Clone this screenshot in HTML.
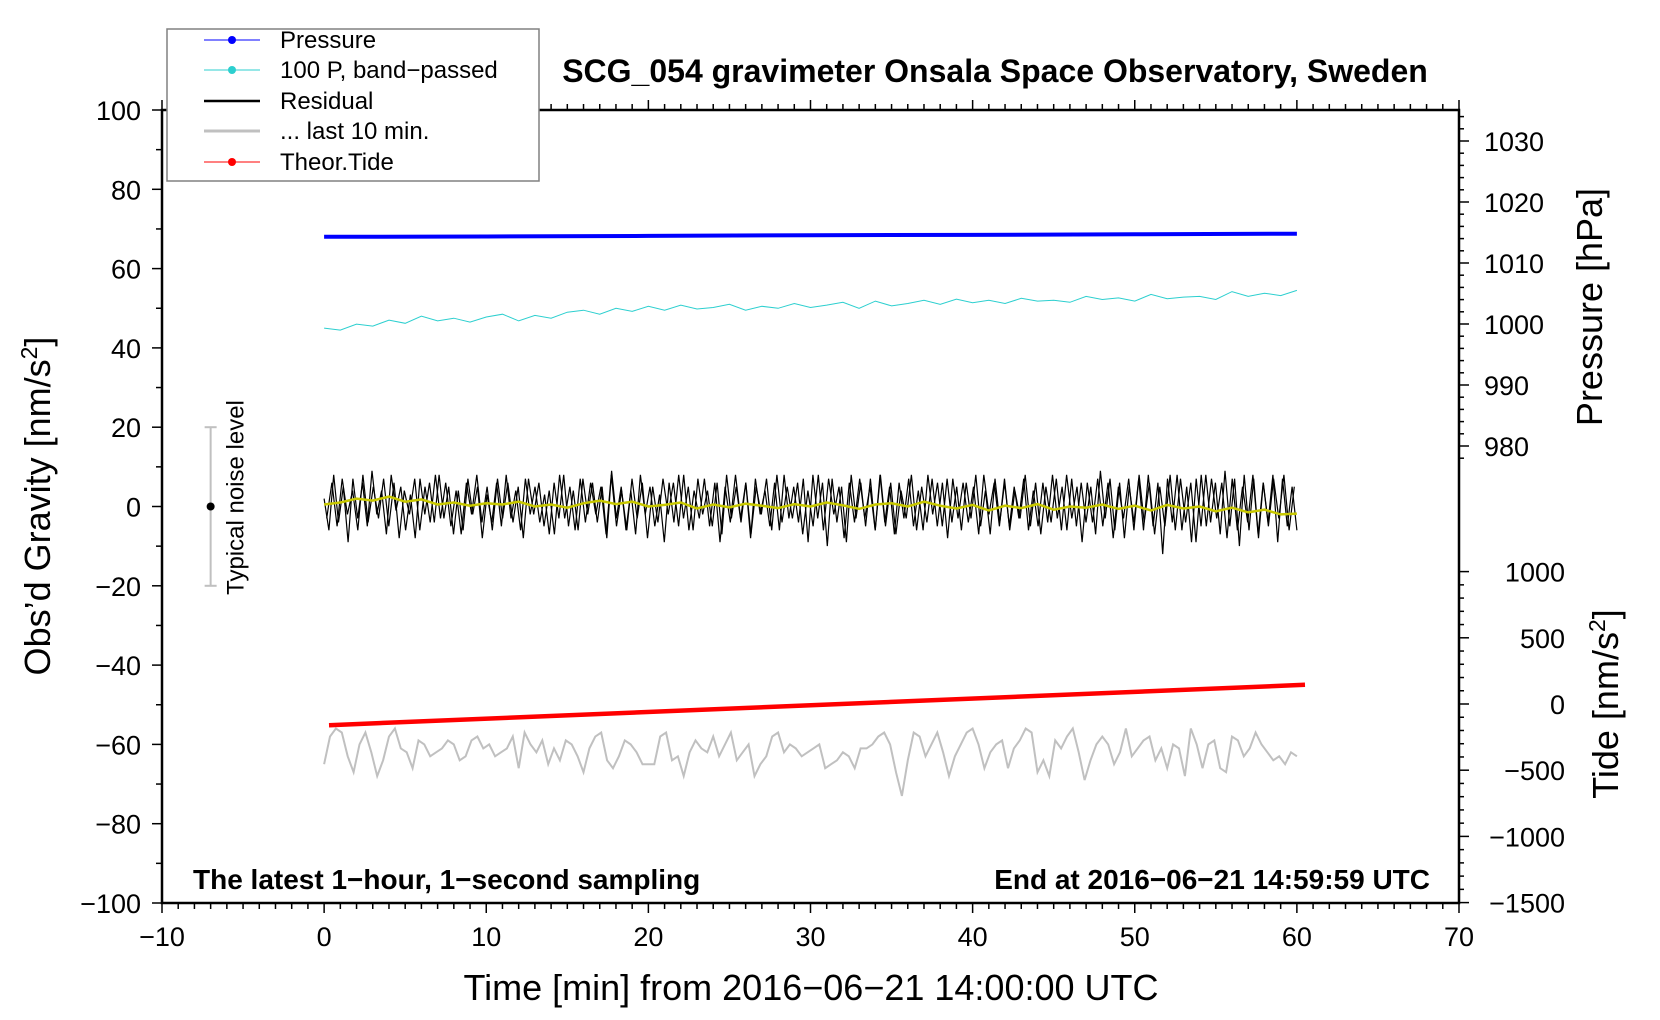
<!DOCTYPE html>
<html><head><meta charset="utf-8"><style>
html,body{margin:0;padding:0;background:#fff;}
svg{display:block;font-family:"Liberation Sans",Arial,sans-serif;}
</style></head><body>
<svg id="chart" width="1660" height="1020" viewBox="0 0 1660 1020"></svg>
<script>
// ---- data ----
const xTicks=[-10,0,10,20,30,40,50,60,70];
const yTicks=[-100,-80,-60,-40,-20,0,20,40,60,80,100];
const pTicks=[980,990,1000,1010,1020,1030];
const tideTicks=[-1500,-1000,-500,0,500,1000];
const pressureT=[0,10,20,30,40,50,60];
const pressureV=[1014.3,1014.35,1014.45,1014.55,1014.6,1014.7,1014.8];
const bandT=[0,1,2,3,4,5,6,7,8,9,10,11,12,13,14,15,16,17,18,19,20,21,22,23,24,25,26,27,28,29,30,31,32,33,34,35,36,37,38,39,40,41,42,43,44,45,46,47,48,49,50,51,52,53,54,55,56,57,58,59,60];
const bandV=[45,44.5,46,45.5,47,46.2,48,46.8,47.5,46.5,47.8,48.5,46.8,48.2,47.5,49,49.5,48.5,50,49.2,50.5,49.5,50.8,49.8,50.2,51,49.5,50.5,50,51.2,50.2,50.8,51.5,50,51.8,50.6,51.2,52,51,52.3,51.4,52,51.2,52.5,51.8,52,51.5,53,52.2,52.6,51.8,53.5,52.4,52.8,53,52.2,54.2,53,53.8,53.2,54.5];
const resV=[2,-6,8,-4,5,-9,7,-3,6,-5,9,-2,4,-7,8,-1,5,-6,3,-8,7,-2,6,-4,8,-3,5,-7,4,-6,7,-2,5,-8,3,-4,6,-5,8,-3,4,-6,7,-2,5,-4,3,-7,6,-3,8,-5,4,-6,7,-2,6,-4,5,-8,9,-3,5,-6,4,-7,8,-2,5,-5,3,-9,6,-4,8,-3,5,-6,7,-2,4,-5,6,-7,8,-3,5,-4,6,-8,7,-2,4,-5,6,-6,8,-3,5,-4,7,-9,8,-3,6,-10,7,-4,5,-9,8,-3,6,-5,7,-6,8,-4,5,-7,6,-3,7,-5,4,-6,8,-2,6,-5,7,-4,5,-6,6,-3,8,-5,4,-7,7,-4,6,-5,5,-3,7,-6,4,-5,6,-4,8,-3,5,-6,7,-5,6,-4,5,-7,9,-3,7,-6,6,-8,5,-4,7,-6,8,-5,6,-12,7,-4,8,-6,5,-9,7,-5,8,-4,6,-7,9,-5,7,-10,8,-6,7,-8,6,-4,8,-9,7,-5,5,-6];
const resV2=[-3,6,-5,7,-2,4,-6,8,-4,5,-3,7,-5,6,-8,4,-2,7,-6,5,-4,8,-3,6,-5,4,-7,6,-2,8,-4,5,-6,7,-3,6,-4,5,-8,7,-2,6,-5,4,-7,8,-3,5,-6,7,-4,6,-2,5,-7,8,-5,4,-6,7,-3,6,-8,5,-4,7,-2,6,-5,8,-6,4,-3,7,-5,6,-9,5,-4,8,-3,6,-7,5,-2,7,-6,8,-4,5,-3,6,-7,4,-5,8,-6,7,-2,5,-8,6,-4,7,-3,5,-6,8,-5,6,-7,4,-3,8,-6,5,-4,7,-5,6,-8,7,-3,6,-4,5,-7,8,-2,6,-5,7,-6,4,-3,8,-5,6,-7,5,-4,7,-6,8,-3,5,-9,6,-4,7,-5,6,-8,5,-3,7,-6,8,-4,6,-7,5,-5,8,-6,7,-4,6,-9,8,-5,7,-3,6,-8,7,-6,5,-4,8,-7,6,-5,7,-3,8,-6,5];
const smoothV=[0.5,1,2,1.5,2.5,1.2,1.8,0.5,1,0.2,0.8,0.5,1.2,0,0.5,-0.3,0.8,1.5,0.6,1.2,0,0.4,1,-0.5,0.5,-0.2,0.7,0.2,-0.4,0.6,0,1,0.3,-0.6,0.5,0.8,0,1.2,0.2,-0.5,0.4,-1,0.2,-0.4,0.6,-0.8,0,-0.3,0.5,-0.6,0.2,-1,0.4,-0.5,0,-1.2,-0.3,-1.5,-0.8,-2,-1.8];
const grayV=[-65,-58,-56,-57,-63,-67,-60,-57,-62,-68,-64,-58,-56,-61,-62,-66,-59,-60,-63,-62,-61,-59,-60,-64,-63,-59,-58,-61,-60,-63,-62,-61,-58,-66,-57,-60,-62,-59,-65,-61,-64,-59,-60,-63,-67,-61,-58,-57,-64,-66,-63,-59,-60,-62,-65,-65,-65,-58,-57,-64,-63,-68,-62,-59,-61,-62,-58,-63,-60,-57,-64,-62,-60,-68,-65,-63,-58,-57,-62,-60,-61,-63,-62,-61,-60,-66,-65,-64,-62,-63,-66,-61,-61,-60,-58,-57,-60,-67,-73,-64,-57,-58,-63,-60,-57,-62,-68,-63,-60,-57,-56,-60,-66,-62,-60,-59,-66,-61,-59,-56,-57,-67,-64,-68,-59,-61,-58,-56,-62,-69,-64,-60,-58,-60,-65,-62,-56,-63,-61,-59,-58,-64,-61,-66,-60,-61,-68,-56,-60,-66,-60,-59,-66,-67,-58,-59,-63,-61,-57,-60,-62,-64,-63,-65,-62,-63];
const tideT=[0.3,60.5];
const tideV=[-160,145];
const noiseMid=0, noiseHalf=20, noiseX=-7;

// ---- scales ----
const X0=162,X1=1459,Y0=903,Y1=110;
const sx=t=>X0+(t+10)/80*(X1-X0);
const sy=v=>Y0-(v+100)/200*(Y0-Y1);
const sp=p=>141+(1030-p)*6.1;
const st=v=>704-v*0.1324;

const svg=document.getElementById('chart');
const NS='http://www.w3.org/2000/svg';
function mk(tag,attrs,parent){const e=document.createElementNS(NS,tag);for(const k in attrs)e.setAttribute(k,attrs[k]);(parent||svg).appendChild(e);return e;}
function txt(s,attrs,parent){const e=mk('text',attrs,parent);e.textContent=s;return e;}

const frame=mk('rect',{x:X0,y:Y1,width:X1-X0,height:Y0-Y1,fill:'none',stroke:'#000','stroke-width':2.5});



const xa=mk('g',{});


for(let t=-10;t<=70;t+=1){const L=(t%10===0)?10:6;
 mk('line',{x1:sx(t),x2:sx(t),y1:Y0,y2:Y0+L,stroke:'#000','stroke-width':1.5},xa);
 mk('line',{x1:sx(t),x2:sx(t),y1:Y1,y2:Y1-L,stroke:'#000','stroke-width':1.5},xa);}
xTicks.forEach(t=>{const e=txt(String(t).replace('-','\u2212'),{x:sx(t),y:Y0+43,'font-size':27,'text-anchor':'middle'},xa);
 
 });
const ya=mk('g',{});


for(let v=-100;v<=100;v+=10){const L=(v%20===0)?10:6;mk('line',{x1:X0,x2:X0-L,y1:sy(v),y2:sy(v),stroke:'#000','stroke-width':1.5},ya);}
yTicks.forEach(v=>{const e=txt(String(v).replace('-','\u2212'),{x:X0-21,y:sy(v)+10,'font-size':27,'text-anchor':'end'},ya);
 
 });
const pa=mk('g',{});


for(let p=978;p<=1036;p+=2){const y=sp(p);if(y<Y1)continue;const L=(p%10===0)?10:5;mk('line',{x1:X1,x2:X1+L,y1:y,y2:y,stroke:'#000','stroke-width':1.5},pa);}
pTicks.forEach(p=>{const e=txt(String(p),{x:X1+25,y:sp(p)+10,'font-size':27},pa);
 
 });
const ta=mk('g',{});


for(let v=-1500;v<=1000;v+=100){const L=(v%500===0)?10:5;mk('line',{x1:X1,x2:X1+L,y1:st(v),y2:st(v),stroke:'#000','stroke-width':1.5},ta);}
tideTicks.forEach(v=>{const e=txt(String(v).replace('-','\u2212'),{x:X1+106,y:st(v)+10,'font-size':27,'text-anchor':'end'},ta);
 
 });

function path(pts,attrs,name){const d=pts.map((p,i)=>(i?'L':'M')+p[0].toFixed(1)+' '+p[1].toFixed(1)).join('');const e=mk('path',Object.assign({d:d,fill:'none'},attrs));return e;}
path(grayV.map((v,i)=>[sx(i/(grayV.length-1)*60),sy(v)]),{stroke:'#c0c0c0','stroke-width':2},'last-10-min-line');
path(bandV.map((v,i)=>[sx(bandT[i]),sy(v)]),{stroke:'#2ccfcf','stroke-width':1},'band-passed-line');
path(pressureV.map((v,i)=>[sx(pressureT[i]),sp(v)]),{stroke:'#0000ff','stroke-width':4},'pressure-line');
path(resV.map((v,i)=>[sx(i/(resV.length-1)*60),sy(v)]),{stroke:'#000','stroke-width':1.2},'residual-line');
path(resV2.map((v,i)=>[sx((i+0.5)/(resV2.length)*60),sy(v)]),{stroke:'#000','stroke-width':1.2},'residual-line-b');
path(smoothV.map((v,i)=>[sx(i/(smoothV.length-1)*60),sy(v)]),{stroke:'#c8c800','stroke-width':2.5},'residual-smoothed-line');
path(tideV.map((v,i)=>[sx(tideT[i]),st(v)]),{stroke:'#ff0000','stroke-width':4.5},'tide-line');

const nb=mk('g',{});


const nx=sx(noiseX);
mk('line',{x1:nx,x2:nx,y1:sy(noiseMid+noiseHalf),y2:sy(noiseMid-noiseHalf),stroke:'#c0c0c0','stroke-width':2},nb);
mk('line',{x1:nx-6,x2:nx+6,y1:sy(noiseMid+noiseHalf),y2:sy(noiseMid+noiseHalf),stroke:'#c0c0c0','stroke-width':2},nb);
mk('line',{x1:nx-6,x2:nx+6,y1:sy(noiseMid-noiseHalf),y2:sy(noiseMid-noiseHalf),stroke:'#c0c0c0','stroke-width':2},nb);
mk('circle',{cx:nx,cy:sy(noiseMid),r:4,fill:'#000'},nb);
txt('Typical noise level',{x:0,y:0,'font-size':24,'text-anchor':'middle',transform:`translate(${nx+33},${sy(noiseMid)-9}) rotate(-90)`},nb);
</script>
<div style="position:absolute;left:0;top:0;width:1660px;height:1020px;pointer-events:none">
<svg width="1660" height="1020" style="font-family:'Liberation Sans',Arial,sans-serif">
 <text x="995" y="82" font-size="32" font-weight="bold" text-anchor="middle">SCG_054 gravimeter Onsala Space Observatory, Sweden</text>
 <text x="193" y="889" font-size="28" font-weight="bold">The latest 1−hour, 1−second sampling</text>
 <text x="1430" y="889" font-size="28" font-weight="bold" text-anchor="end">End at 2016−06−21 14:59:59 UTC</text>
 <text x="811" y="1000" font-size="36" text-anchor="middle">Time [min] from 2016−06−21 14:00:00 UTC</text>
 <text transform="translate(50,506) rotate(-90)" font-size="36" text-anchor="middle">Obs’d Gravity [nm/s<tspan baseline-shift="super" font-size="23">2</tspan>]</text>
 <text transform="translate(1602,307) rotate(-90)" font-size="36" text-anchor="middle">Pressure [hPa]</text>
 <text transform="translate(1618,704) rotate(-90)" font-size="36" text-anchor="middle">Tide [nm/s<tspan baseline-shift="super" font-size="23">2</tspan>]</text>
 <g>
  <rect x="167" y="29" width="372" height="152" fill="#fff" stroke="#808080" stroke-width="1.5"/>
  <line x1="204" x2="260" y1="40" y2="40" stroke="#0000ff"/><circle cx="232" cy="40" r="4" fill="#0000ff"/>
  <text x="280" y="48" font-size="24">Pressure</text>
  <line x1="204" x2="260" y1="70" y2="70" stroke="#2ccfcf"/><circle cx="232" cy="70" r="4" fill="#2ccfcf"/>
  <text x="280" y="78" font-size="24">100 P, band−passed</text>
  <line x1="204" x2="260" y1="101" y2="101" stroke="#000" stroke-width="2.5"/>
  <text x="280" y="109" font-size="24">Residual</text>
  <line x1="204" x2="260" y1="131" y2="131" stroke="#c0c0c0" stroke-width="3"/>
  <text x="280" y="139" font-size="24">... last 10 min.</text>
  <line x1="204" x2="260" y1="162" y2="162" stroke="#ff0000"/><circle cx="232" cy="162" r="4" fill="#ff0000"/>
  <text x="280" y="170" font-size="24">Theor.Tide</text>
 </g>
</svg></div>
</body></html>
